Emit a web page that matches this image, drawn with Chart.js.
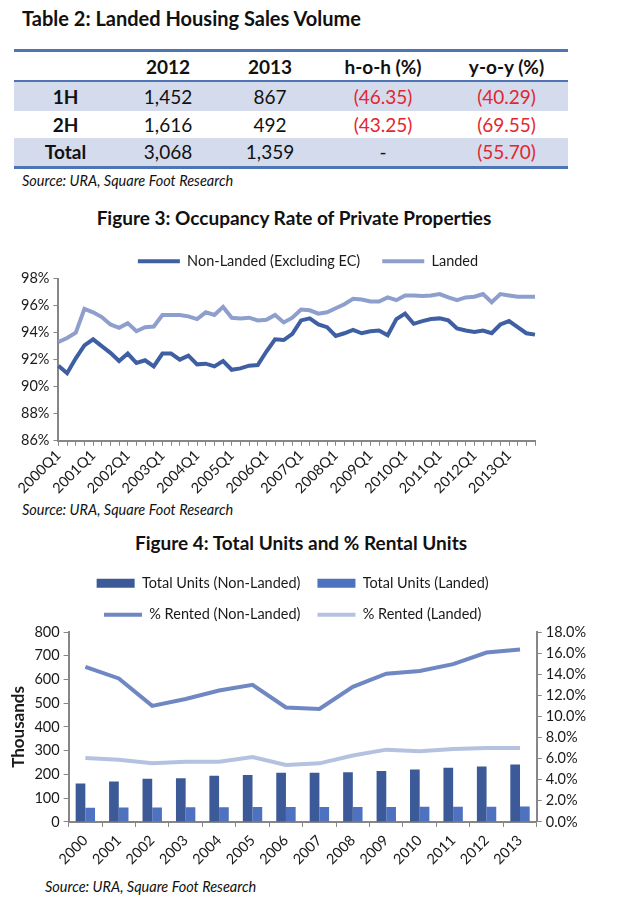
<!DOCTYPE html>
<html>
<head>
<meta charset="utf-8">
<script src="https://cdn.jsdelivr.net/npm/chart.js@4.4.1/dist/chart.umd.min.js"></script>
<style>
  body { margin: 0; background: #fff; font-family: Lato, 'Open Sans', sans-serif; color: #111; }
  #page { position: relative; width: 641px; height: 901px; overflow: hidden; }
  .head { position: absolute; font-weight: bold; font-size: 19px; white-space: nowrap; }
  .src { position: absolute; font-style: italic; font-size: 14.5px; white-space: nowrap; }
  table { position: absolute; left: 14px; top: 49px; width: 554px; border-collapse: collapse; font-size: 19px; table-layout: fixed; }
  table { border-top: 3px solid #4F74B3; border-bottom: 3px solid #4F74B3; }
  th, td { text-align: center; padding: 0; }
  thead th { height: 28px; border-bottom: 2px solid #4F74B3; }
  tbody td:first-child { font-weight: bold; }
  tr.shade td { background: #D4DBEC; }
  .neg { color: #E3262F; }
  canvas { position: absolute; left: 0; }
</style>
</head>
<body>
<div id="page">
  <div class="head" style="left:22px;top:6px;font-size:20px;">Table 2: Landed Housing Sales Volume</div>
  <table>
    <colgroup><col style="width:103px"><col style="width:102px"><col style="width:102px"><col style="width:124px"><col style="width:123px"></colgroup>
    <thead><tr><th></th><th>2012</th><th>2013</th><th>h-o-h (%)</th><th>y-o-y (%)</th></tr></thead>
    <tbody>
      <tr class="shade" style="height:30px"><td>1H</td><td>1,452</td><td>867</td><td class="neg">(46.35)</td><td class="neg">(40.29)</td></tr>
      <tr style="height:27px"><td>2H</td><td>1,616</td><td>492</td><td class="neg">(43.25)</td><td class="neg">(69.55)</td></tr>
      <tr class="shade" style="height:29px"><td>Total</td><td>3,068</td><td>1,359</td><td>-</td><td class="neg">(55.70)</td></tr>
    </tbody>
  </table>
  <div class="src" style="left:22px;top:172px;">Source: URA, Square Foot Research</div>

  <div class="head" style="left:0;width:588px;text-align:center;top:206px;">Figure 3: Occupancy Rate of Private Properties</div>
  <canvas id="occChart" width="560" height="266" style="top:232px"></canvas>
  <div class="src" style="left:22px;top:501px;">Source: URA, Square Foot Research</div>

  <div class="head" style="left:0;width:602px;text-align:center;top:531px;">Figure 4: Total Units and % Rental Units</div>
  <canvas id="unitsChart" width="610" height="314" style="top:559px"></canvas>
  <div class="src" style="left:45px;top:878px;">Source: URA, Square Foot Research</div>
</div>

<script>
// Figure 3 data (occupancy rate, %)
const quarters = [
  '2000Q1', '2000Q2', '2000Q3', '2000Q4', '2001Q1', '2001Q2', '2001Q3', '2001Q4',
  '2002Q1', '2002Q2', '2002Q3', '2002Q4', '2003Q1', '2003Q2', '2003Q3', '2003Q4',
  '2004Q1', '2004Q2', '2004Q3', '2004Q4', '2005Q1', '2005Q2', '2005Q3', '2005Q4',
  '2006Q1', '2006Q2', '2006Q3', '2006Q4', '2007Q1', '2007Q2', '2007Q3', '2007Q4',
  '2008Q1', '2008Q2', '2008Q3', '2008Q4', '2009Q1', '2009Q2', '2009Q3', '2009Q4',
  '2010Q1', '2010Q2', '2010Q3', '2010Q4', '2011Q1', '2011Q2', '2011Q3', '2011Q4',
  '2012Q1', '2012Q2', '2012Q3', '2012Q4', '2013Q1', '2013Q2', '2013Q3', '2013Q4'
];
const nonLandedOcc = [
  91.55, 91.0, 92.1, 93.05, 93.5, 93.0, 92.5, 91.9, 92.45, 91.75,
  91.95, 91.5, 92.45, 92.45, 92.0, 92.3, 91.65, 91.7, 91.5, 91.9,
  91.25, 91.35, 91.55, 91.6, 92.6, 93.5, 93.45, 93.9, 94.9, 95.05,
  94.6, 94.4, 93.75, 93.95, 94.2, 93.95, 94.1, 94.15, 93.8, 95.0,
  95.4, 94.65, 94.85, 95.0, 95.05, 94.9, 94.3, 94.15, 94.05, 94.15,
  93.95, 94.6, 94.85, 94.4, 93.95, 93.85
];
const landedOcc = [
  93.3, 93.6, 94.0, 95.75, 95.5, 95.15, 94.6, 94.35, 94.7, 94.1,
  94.4, 94.45, 95.3, 95.3, 95.3, 95.2, 95.0, 95.5, 95.3, 95.9,
  95.1, 95.05, 95.1, 94.9, 94.95, 95.3, 94.75, 95.1, 95.7, 95.65,
  95.4, 95.5, 95.8, 96.1, 96.5, 96.45, 96.3, 96.3, 96.6, 96.4,
  96.75, 96.75, 96.7, 96.75, 96.85, 96.6, 96.4, 96.6, 96.65, 96.85,
  96.25, 96.85, 96.75, 96.65, 96.65, 96.65
];

// Figure 4 data
const years = ['2000', '2001', '2002', '2003', '2004', '2005', '2006', '2007', '2008', '2009', '2010', '2011', '2012', '2013'];
const unitsNonLanded = [162, 170, 182, 184, 194, 198, 207, 207, 209, 214, 221, 228, 233, 242]; // thousands
const unitsLanded = [60, 61, 61, 62, 62, 63, 63, 63, 63, 63, 64, 64, 64, 65];
const rentedNonLanded = [14.7, 13.6, 11.0, 11.65, 12.45, 13.0, 10.85, 10.7, 12.8, 14.05, 14.3, 14.95, 16.05, 16.35]; // %
const rentedLanded = [6.05, 5.9, 5.55, 5.7, 5.7, 6.15, 5.4, 5.55, 6.3, 6.85, 6.7, 6.9, 7.0, 7.0];

Chart.defaults.font.family = "Lato, 'Open Sans', sans-serif";
Chart.defaults.font.size = 14.5;
Chart.defaults.color = '#1a1a1a';
Chart.defaults.animation = false;

const axisGrey = '#868686';

// nudge the legend sideways so it sits where the original one does
const legendShift = {
  id: 'legendShift',
  afterLayout(chart, args, opts) {
    chart.legend.left += opts.dx;
    chart.legend.right += opts.dx;
  }
};

new Chart('occChart', {
  type: 'line',
  data: {
    labels: quarters,
    datasets: [{
      label: 'Non-Landed (Excluding EC)',
      data: nonLandedOcc,
      borderColor: '#3F5FA3',
      borderWidth: 4,
      pointRadius: 0,
      pointStyle: 'line',
      tension: 0
    }, {
      label: 'Landed',
      data: landedOcc,
      borderColor: '#8E9FCE',
      borderWidth: 4,
      pointRadius: 0,
      pointStyle: 'line',
      tension: 0
    }]
  },
  plugins: [legendShift],
  options: {
    responsive: false,
    devicePixelRatio: 1,
    layout: { padding: { left: 17, right: 25, top: 0, bottom: 0 } },
    plugins: {
      legendShift: { dx: 32 },
      legend: {
        labels: { usePointStyle: true, pointStyleWidth: 42, boxHeight: 8, padding: 22 }
      },
      tooltip: { enabled: false }
    },
    scales: {
      x: {
        grid: { drawOnChartArea: false, tickLength: 5, color: axisGrey },
        border: { color: axisGrey, width: 2 },
        ticks: {
          autoSkip: false, maxRotation: 45, minRotation: 45, padding: 1,
          callback: function (val, i) { return i % 4 === 0 ? this.getLabelForValue(val) : ''; }
        }
      },
      y: {
        min: 86, max: 98,
        grid: { drawOnChartArea: false, tickLength: 5, color: axisGrey },
        border: { color: axisGrey, width: 2 },
        ticks: { stepSize: 2, padding: 4, autoSkip: false, callback: v => v + '%' }
      }
    }
  }
});

new Chart('unitsChart', {
  type: 'bar',
  data: {
    labels: years,
    datasets: [{
      label: 'Total Units (Non-Landed)',
      data: unitsNonLanded,
      backgroundColor: '#3C5A98',
      pointStyle: 'rect',
      yAxisID: 'y',
      order: 1,
      categoryPercentage: 0.58,
      barPercentage: 1.0
    }, {
      label: 'Total Units (Landed)',
      data: unitsLanded,
      backgroundColor: '#4F72C0',
      pointStyle: 'rect',
      yAxisID: 'y',
      order: 1,
      categoryPercentage: 0.58,
      barPercentage: 1.0
    }, {
      type: 'line',
      label: '% Rented (Non-Landed)',
      data: rentedNonLanded,
      borderColor: '#6F87C3',
      borderWidth: 4,
      pointRadius: 0,
      pointStyle: 'line',
      yAxisID: 'y1',
      order: 0
    }, {
      type: 'line',
      label: '% Rented (Landed)',
      data: rentedLanded,
      borderColor: '#B4C1E1',
      borderWidth: 4,
      pointRadius: 0,
      pointStyle: 'line',
      yAxisID: 'y1',
      order: 0
    }]
  },
  plugins: [legendShift],
  options: {
    responsive: false,
    devicePixelRatio: 1,
    layout: { padding: { left: 6, right: 20, top: 0, bottom: 0 } },
    plugins: {
      legendShift: { dx: -10 },
      legend: {
        fullSize: false,
        labels: {
          usePointStyle: true, pointStyleWidth: 38, boxHeight: 9, padding: 17,
          sort: (a, b) => a.datasetIndex - b.datasetIndex
        }
      },
      tooltip: { enabled: false }
    },
    scales: {
      x: {
        grid: { drawOnChartArea: false, tickLength: 5, color: axisGrey },
        border: { color: axisGrey, width: 2 },
        ticks: { maxRotation: 45, minRotation: 45, padding: 5 }
      },
      y: {
        position: 'left',
        min: 0, max: 800,
        title: { display: true, text: 'Thousands', font: { size: 17, weight: 'bold' }, padding: 2 },
        grid: { drawOnChartArea: false, tickLength: 5, color: axisGrey },
        border: { color: axisGrey, width: 2 },
        ticks: { stepSize: 100, padding: 4, autoSkip: false }
      },
      y1: {
        position: 'right',
        min: 0, max: 18,
        grid: { drawOnChartArea: false, tickLength: 5, color: axisGrey },
        border: { color: axisGrey, width: 2 },
        ticks: { stepSize: 2, padding: 4, autoSkip: false, callback: v => v.toFixed(1) + '%' }
      }
    }
  }
});
</script>
</body>
</html>
